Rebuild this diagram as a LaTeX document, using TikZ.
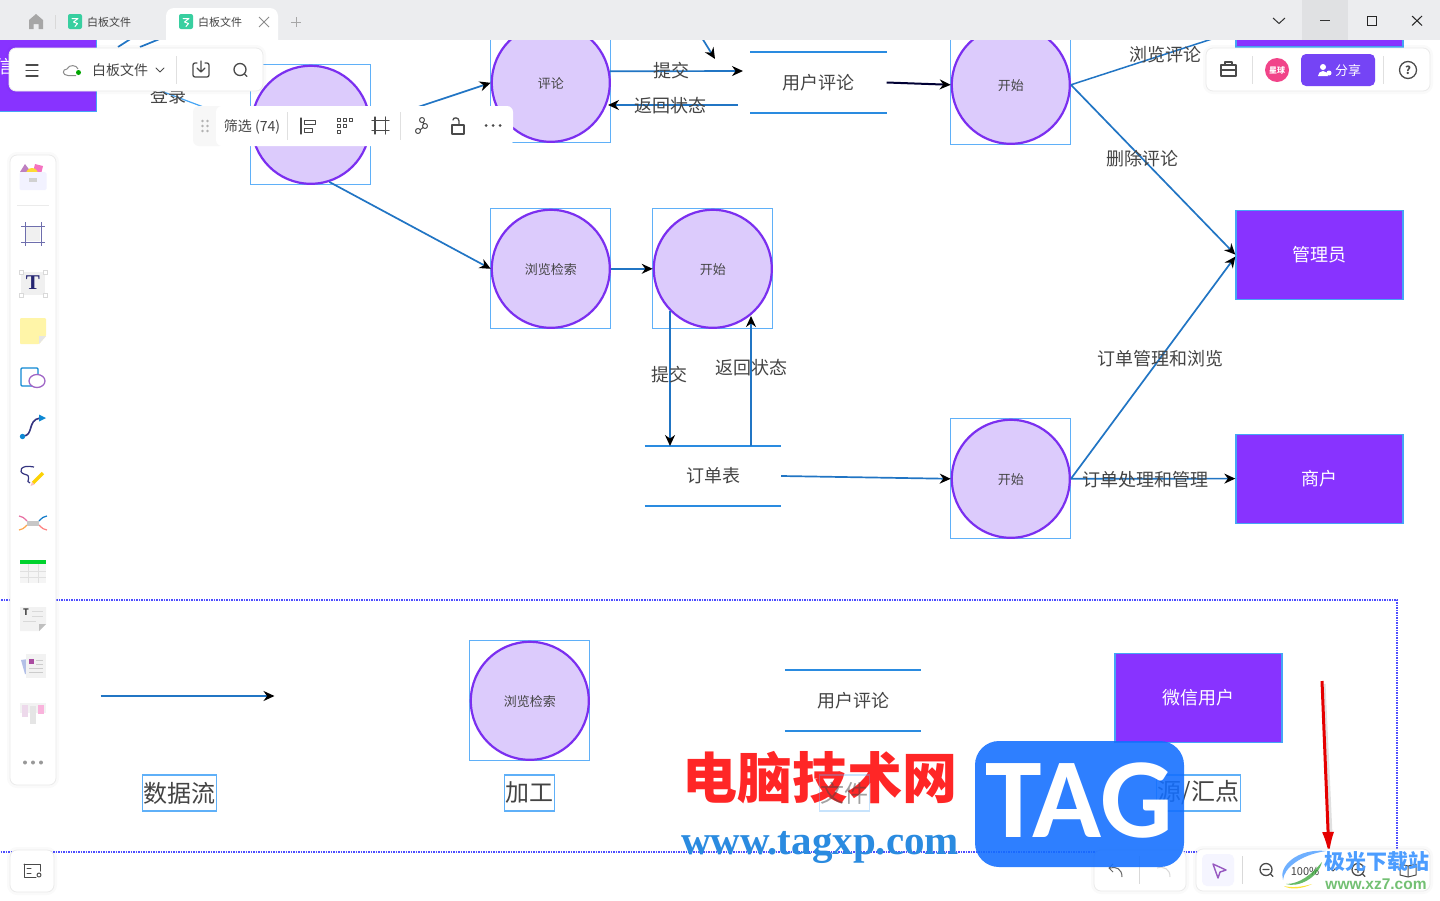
\documentclass[tikz,border=0pt]{standalone}
\usepackage{fontspec}
\setmainfont{Noto Sans CJK SC}
\newfontfamily\serifb{Liberation Serif}
\newfontfamily\sansb{Liberation Sans}
\newfontfamily\tagf{Carlito}
\usetikzlibrary{arrows.meta,calc}
\definecolor{pur}{HTML}{8833FF}
\definecolor{purl}{HTML}{DCCBFC}
\definecolor{purd}{HTML}{7B2FF0}
\definecolor{sel}{HTML}{45A5F5}
\definecolor{selb}{HTML}{5FB0F8}
\definecolor{wire}{HTML}{2175C4}
\definecolor{storec}{HTML}{2A8BE0}
\definecolor{ink}{HTML}{444444}
\definecolor{bar}{HTML}{ECEDEF}
\definecolor{ic}{HTML}{4A4A4A}
\definecolor{logo}{HTML}{38CFA0}
\definecolor{tagblue}{HTML}{126EFF}
\tikzset{
 x=1pt,y=-1pt,
 bubblenode/.style={circle,draw=purd,line width=2.2pt,fill=purl,minimum size=118pt,inner sep=0,font=\fontsize{13}{13}\selectfont,text=ink},
 bubbletext/.style={inner sep=0,font=\fontsize{13}{13}\selectfont,text=ink},
 selbox/.style={draw=selb,line width=1.3pt},
 actor/.style={rectangle,draw=sel,line width=1.2pt,fill=pur,text=white,minimum width=167pt,minimum height=89pt,inner sep=0,font=\fontsize{18}{18}\selectfont},
 store/.style={rectangle,minimum width=136pt,minimum height=60pt,inner sep=0,font=\fontsize{18}{18}\selectfont,text=ink},
 storeline/.style={draw=storec,line width=2.2pt},
 wireline/.style={draw=wire,line width=1.7pt,-{Stealth[length=11pt,width=10pt,black]}},
 flowlabel/.style={inner sep=0,font=\fontsize{18}{18}\selectfont,text=ink,yshift=-.8pt},
 legendlabel/.style={draw=selb,line width=1.2pt,inner sep=1pt,minimum height=36pt,font=\fontsize{24}{24}\selectfont,text=ink},
 panel/.style={draw=black!8,fill=white,line width=.8pt,rounded corners=7pt,preaction={draw=black,draw opacity=.018,line width=6pt}},
 icon/.style={draw=ic,line width=1.3pt,line cap=round,line join=round},
 paneltext/.style={inner sep=0,font=\fontsize{14}{14}\selectfont,text=ink},
 logosq/.style={fill=logo,rounded corners=2pt},
 logomark/.style={draw=white,line width=1pt,line cap=round,line join=round},
}
\newcommand{\bubble}[4]{%
 \draw[selbox] (#2-60,#3-60) rectangle (#2+60,#3+60);
 \node[bubblenode] (#1) at (#2,#3) {};
 \node[bubbletext] (#1t) at (#2,#3+.4) {#4};}
\begin{document}
\begin{tikzpicture}
\useasboundingbox (0,0) rectangle (1440,900);
\fill[white] (0,0) rectangle (1440,900);
% ---------- frame of the legend
\draw[draw=blue!70!white,line width=1.5pt,densely dotted] (-5,600) rectangle (1397,852);
% ---------- actors
\node[actor] (wxtop) at (13,67) {微信用户};
\node[actor,minimum height=40pt] (topright) at (1319.4,27) {};
\node[actor] (admin) at (1319.4,254.6) {管理员};
\node[actor] (shop) at (1319.4,478.6) {商户};
\node[actor] (wxleg) at (1198.4,698) {微信用户};
% ---------- processes
\bubble{login}{310.8}{124.8}{}
\bubble{review}{550.8}{82.8}{评论}
\bubble{startA}{1010.8}{84.8}{开始}
\bubble{browse}{550.8}{268.8}{浏览检索}
\bubble{startB}{712.8}{268.8}{开始}
\bubble{startC}{1010.8}{478.8}{开始}
\bubble{legproc}{529.8}{700.8}{浏览检索}
% ---------- stores
\node[store] (ustore) at (818.5,82.5) {用户评论};
\draw[storeline] (ustore.north west)--(ustore.north east) (ustore.south west)--(ustore.south east);
\node[store] (ostore) at (713,476) {订单表};
\draw[storeline] (ostore.north west)--(ostore.north east) (ostore.south west)--(ostore.south east);
\node[store] (lstore) at (853,700.5) {用户评论};
\draw[storeline] (lstore.north west)--(lstore.north east) (lstore.south west)--(lstore.south east);
% ---------- free ends
\coordinate (e1) at (118,47); \coordinate (e1b) at (132,38);
\coordinate (e2) at (140,47); \coordinate (e2b) at (162,38);
\coordinate (e3) at (702,38); \coordinate (e3b) at (715,59);
\coordinate (toSub) at (743,71);
\coordinate (fromRet) at (738,105);
\coordinate (toRet) at (608,105);
\coordinate (s1) at (670,311); \coordinate (s1b) at (670,446);
\coordinate (r1a) at (751,446); \coordinate (r1b) at (751,316);
\coordinate (upA) at (1215,38);
% ---------- connectors
\draw[draw=wire,line width=1.7pt] (e1)--(e1b) (e2)--(e2b);
\draw[wireline] (e3)--(e3b);
\draw[draw=sel,line width=1.2pt] (wxtop.east)--(login.west);
\draw[wireline] (login.2)--(review.west);
\draw[wireline] (login.-72)--(browse.west);
\draw[wireline] (review.11.5)--(toSub);
\draw[wireline] (fromRet)--(toRet);
\draw[wireline,line width=2pt,draw=black!80!blue] (ustore.east)--(startA.west);
\draw[draw=wire,line width=1.5pt] (startA.east)--(upA);
\draw[wireline] (startA.east)--(admin.west);
\draw[wireline] (browse.east)--(startB.west);
\draw[wireline] (s1)--(s1b);
\draw[wireline] (r1a)--(r1b);
\draw[wireline] (ostore.east)--(startC.west);
\draw[wireline] (startC.east)--($(admin.west)+(0,2)$);
\draw[wireline] (startC.east)--(shop.west);
\coordinate (legA) at (100.5,696);
\coordinate (legB) at (274.5,696);
\draw[wireline] (legA)--(legB);
% ---------- flow labels
\node[flowlabel] (l1) at (168,95) {登录};
\node[flowlabel] (l2) at (671,70) {提交};
\node[flowlabel] (l3) at (670,105) {返回状态};
\node[flowlabel] (l4) at (1165,54) {浏览评论};
\node[flowlabel] (l5) at (1142,158) {删除评论};
\node[flowlabel] (l6) at (669,374) {提交};
\node[flowlabel] (l7) at (751,367) {返回状态};
\node[flowlabel] (l8) at (1160,358) {订单管理和浏览};
\node[flowlabel] (l9) at (1145,479) {订单处理和管理};
% ---------- legend labels
\node[legendlabel,minimum width=73pt] (k1) at (179.5,793) {数据流};
\node[legendlabel,minimum width=49pt] (k2) at (529.5,793) {加工};
\node[legendlabel,minimum width=83pt] (k4) at (1198.5,793) {源/汇点};
% ---------- watermark, text part
\node[inner sep=0,text=red!85!white,font=\fontsize{55}{55}\selectfont\bfseries] (wm1) at (820,778) {电脑技术网};
\node[legendlabel,minimum width=49pt,draw opacity=.35,text opacity=.5] (k3) at (844.5,793) {文件};
\node[inner sep=0,text=storec,font=\serifb\fontsize{41}{41}\selectfont\bfseries] (wm2) at (820,847) {www.tagxp.com};
% ---------- red arrow
\draw[black!40,line width=3pt,opacity=.3] (1324,684)--(1331,835);
\coordinate (ra) at (1322,681); \coordinate (rb) at (1329,855);
\draw[draw=red!90!black,line width=3pt,-{Latex[length=23pt,width=12pt]}] (ra)--(rb);
% ---------- title bar
\fill[bar] (0,0) rectangle (1440,40);
\fill[white,rounded corners=8pt] (166,8) rectangle (278,60);
\fill[white] (166,40) rectangle (278,60);
\fill[black!5!bar] (1302,0) rectangle (1348,40);
\fill[black!35] (29,29)--(29,20)--(36,14)--(43,20)--(43,29)--(38.5,29)--(38.5,24)--(33.5,24)--(33.5,29)--cycle;
\draw[black!15,line width=1pt] (55.5,15)--(55.5,29);
\fill[logosq] (68,14) rectangle (82,29);
\draw[logomark] (72,18.5)--(78,18.5)--(73.5,22)--(77.5,23.5)--(75,26.5);
\node[inner sep=0,text=ink,font=\fontsize{11}{11}\selectfont] (tb) at (109,22) {白板文件};
\fill[logosq] (179,14) rectangle (193,29);
\draw[logomark] (183,18.5)--(189,18.5)--(184.5,22)--(188.5,23.5)--(186,26.5);
\node[inner sep=0,text=ink,font=\fontsize{11}{11}\selectfont] (td) at (220,22) {白板文件};
\draw[black!45,line width=1pt] (259,17)--(269,27) (269,17)--(259,27);
\draw[black!35,line width=1pt] (296,17)--(296,27) (291,22)--(301,22);
\draw[black!80,line width=1pt] (1273,18)--(1279,23.5)--(1285,18);
\draw[black!80,line width=1pt] (1320,20)--(1330,20);
\draw[black!85,line width=1pt] (1367,16) rectangle (1376,25);
\draw[black!85,line width=1pt] (1412,16)--(1422,25.5) (1422,16)--(1412,25.5);
% ---------- top left panel
\draw[panel] (9,48) rectangle (263,91);
\draw[icon] (26,65)--(38,65) (26,70.5)--(38,70.5) (26,76)--(38,76);
\draw[black!45,line width=1pt,line join=round] (76,75.5)--(68,75.5)..controls (62,75.5) and (62,69) .. (67,69) ..controls (69,64) and (77,65).. (78,69);
\fill[green!65!black] (78.5,72.5) circle[radius=2.5pt];
\node[paneltext] (pa) at (120,70.5) {白板文件};
\draw[icon,line width=1pt] (156,68)--(160,72)--(164,68);
\draw[black!12,line width=1pt] (176.5,56)--(176.5,84);
\draw[icon] (197,63)--(195,63)..controls (194,63) and (193,64) .. (193,65)--(193,75)..controls (193,76) and (194,77) .. (195,77)--(207,77)..controls (208,77) and (209,76) .. (209,75)--(209,65)..controls (209,64) and (208,63) .. (207,63)--(205,63) (201,61)--(201,71) (197,68)--(201,72)--(205,68);
\draw[icon] (240,69.5) circle[radius=6pt] (244.5,74)--(247,76.5);
% ---------- filter panel
\fill[black!3,rounded corners=6pt] (193,106) rectangle (225,146);
\fill[white,rounded corners=6pt] (216,106) rectangle (513,146);
\foreach \xa in {202.5,207.5}\foreach \ya in {121,126,131}{\fill[black!30] (\xa,\ya) circle[radius=1.4pt];}
\node[paneltext] (fa) at (252,126.5) {筛选 (74)};
\draw[black!12,line width=1pt] (287.5,112)--(287.5,140) (400.5,112)--(400.5,140);
\draw[icon] (301,118)--(301,134);
\draw[icon,line width=1pt] (304,120) rectangle (315,124.5) (304,128) rectangle (312,132.5);
\foreach \xa in {339,345,351}{\draw[icon,line width=1pt] (\xa-1.5,120-1.5) rectangle (\xa+1.5,120+1.5);}
\foreach \xa in {339,345}{\draw[icon,line width=1pt] (\xa-1.5,126-1.5) rectangle (\xa+1.5,126+1.5);}
\draw[icon,line width=1pt] (337.5,130.5) rectangle (340.5,133.5);
\draw[icon] (375,120.5) rectangle (385.5,130.5) (375,117)--(375,134) (385.5,117)--(385.5,134) (372,120.5)--(389,120.5) (372,130.5)--(389,130.5);
\draw[icon,line width=1pt] (422,120) circle[radius=2.5pt] (425,126) circle[radius=2.5pt] (418,131) circle[radius=2.5pt] (423,122.5)--(424,124) (420,130)--(423,127.5);
\draw[icon] (452,125) rectangle (464,134);
\draw[icon] (459,125)--(459,121)..controls (459,117) and (453,117) .. (453,120);
\foreach \xa in {486,493,500}{\fill[ic] (\xa,125.5) circle[radius=1.5pt];}
% ---------- top right panel
\draw[panel] (1206,48) rectangle (1430,91);
\draw[icon] (1221,65) rectangle (1236,76) (1225,65)--(1225,62)--(1232,62)--(1232,65) (1221,70)--(1236,70);
\draw[black!12,line width=1pt] (1252.5,56)--(1252.5,84) (1383.5,56)--(1383.5,84);
\fill[magenta!70!red!75] (1277,70) circle[radius=12pt];
\node[inner sep=0,text=white,font=\fontsize{8}{8}\selectfont\bfseries] (ra1) at (1277,70) {星球};
\fill[fill=purd!75!blue!85!white,rounded corners=5pt] (1301,54) rectangle (1375,86);
\fill[white] (1323,67) circle[radius=3pt] (1318,76) arc[start angle=180,end angle=0,radius=5pt];
\fill[white] (1329,73) circle[radius=2.5pt];
\node[inner sep=0,text=white,font=\fontsize{13}{13}\selectfont] (ra2) at (1348,71) {分享};
\draw[icon] (1408,70) circle[radius=8.5pt];
\node[inner sep=0,text=ic,font=\fontsize{11}{11}\selectfont\bfseries] (ra3) at (1408,70) {?};
% ---------- left toolbar
\draw[panel] (10,155) rectangle (56,785);
\fill[blue!35!purple!50!white] (20,172)--(25,164)--(31,172)--cycle;
\fill[magenta!55!white] (35,164)--(43,166)--(41,174)--(33,172)--cycle;
\fill[yellow!70!orange!80] (26,174) arc[start angle=180,end angle=0,radius=6pt]--cycle;
\fill[blue!5,rounded corners=1.5pt] (19.5,172) rectangle (46.5,190);
\fill[black!18] (29,178) rectangle (37,182);
\draw[black!8,line width=1pt] (17,205.5)--(49,205.5);
\fill[black!6] (26,227) rectangle (40,241);
\draw[draw=ic!65!blue!70!white,line width=1pt] (25,226) rectangle (41,242) (25,222)--(25,246) (41,222)--(41,246) (21,226)--(45,226) (21,242)--(45,242);
\fill[black!6] (21,272) rectangle (45,295);
\foreach \xa/\ya in {21/272,45/272,21/295,45/295}{\fill[white,draw=black!15,line width=.5pt] (\xa-2,\ya-2) rectangle (\xa+2,\ya+2);}
\node[inner sep=0,font=\serifb\fontsize{21}{21}\selectfont\bfseries,text=blue!35!black!85] (tT) at (33,283) {T};
\fill[yellow!30!white!95!orange,rounded corners=1pt] (20,318)--(46,318)--(46,336)--(39,344)--(20,344)--cycle;
\fill[black!10] (46,336)--(39,344)--(39,336)--cycle;
\draw[draw=cyan!70!blue,line width=1.3pt,rounded corners=1pt] (21,368) rectangle (38,386);
\draw[draw=blue!50!purple!60!white,fill=white,line width=1.3pt] (37,381) ellipse[x radius=8pt,y radius=6.5pt];
\draw[draw=ic!70!blue,line width=1.6pt] (23,436)..controls (34,436) and (27,420) .. (40,418);
\fill[cyan!70!blue] (22.5,436.5) circle[radius=2.7pt];
\fill[cyan!70!blue] (39,414.5)--(46,418)--(39,421.5)--cycle;
\draw[draw=ic!70!blue,line width=1.2pt] (34,467)..controls (20,464) and (18,472) .. (24,474)..controls (34,476) and (24,482) .. (30,483);
\draw[draw=yellow!70!orange,line width=3.5pt] (33,483)--(43,473);
\fill[pink] (30.5,486)--(32,482)--(34.5,484.5)--cycle;
\draw[draw=magenta!60!purple!60,line width=1.2pt] (19,516)..controls (22,516) and (24,518) .. (27,521);
\draw[draw=cyan!60!blue,line width=1.2pt] (47,516)..controls (44,516) and (42,518) .. (39,521);
\draw[draw=orange!70,line width=1.2pt] (19,530)..controls (22,530) and (24,528) .. (27,525);
\draw[draw=red!50,line width=1.2pt] (47,530)..controls (44,530) and (42,528) .. (39,525);
\fill[black!22] (27,520.5) rectangle (39,526);
\fill[black!4] (20,560) rectangle (46,583);
\fill[green!65!teal] (20,560) rectangle (46,564);
\draw[black!12,line width=.8pt] (20,571)--(46,571) (20,577)--(46,577) (28,564)--(28,583) (38,564)--(38,583);
\fill[black!5] (20,607)--(46,607)--(46,624)--(39,631)--(20,631)--cycle;
\fill[black!25] (46,624)--(39,631)--(39,624)--cycle;
\node[inner sep=0,font=\fontsize{9}{9}\selectfont\bfseries,text=ic] (dT) at (26,612) {T};
\draw[black!15,line width=1pt] (32,611)--(43,611) (32,616)--(43,616) (23,621)--(36,621);
\fill[cyan!40!blue!30] (21,660)--(28,659)--(31,674)--(25,674)--cycle;
\fill[black!5] (26,654) rectangle (46,678);
\fill[purple!70!blue!70] (29,659) rectangle (34,664);
\draw[black!20,line width=1pt] (36,660)--(43,660) (36,664)--(43,664) (29,668)--(43,668) (29,672)--(43,672);
\fill[black!5] (20,703) rectangle (46,713);
\fill[black!10] (30,706) rectangle (36,724);
\fill[blue!30!purple!15] (22,705) rectangle (28,717);
\fill[magenta!30] (38,705) rectangle (44,714);
\foreach \xa in {25,33,41}{\fill[black!40] (\xa,762.5) circle[radius=2pt];}
% ---------- lower left panel
\draw[panel] (10,850) rectangle (54,892);
\draw[icon,line width=1pt] (24,864)--(40,864)--(40,871) (36,877)--(24,877)--(24,864) (27,868)--(31,868) (27,873)--(31,873);
\draw[icon,line width=1pt] (39,875) circle[radius=2pt];
% ---------- lower right panels
\draw[panel] (1094,850) rectangle (1186,891);
\draw[black!60,line width=1pt] (1122,877)..controls (1122,869) and (1116,866).. (1110,868) (1113,864)--(1109,868)--(1113,872);
\draw[black!15,line width=1pt] (1139.5,856)--(1139.5,884);
\draw[black!15,line width=1pt] (1170,877)..controls (1170,869) and (1164,866).. (1157,868);
\draw[panel] (1196,849) rectangle (1430,891);
\fill[blue!4,rounded corners=5pt] (1202,854) rectangle (1234,886);
\draw[draw=blue!50!purple!65!white,line width=1.4pt,line join=round] (1213,864)--(1226,870)--(1220,872)--(1218,878)--cycle;
\draw[black!15,line width=1pt] (1242.5,856)--(1242.5,884);
\draw[icon] (1266,869.5) circle[radius=6pt] (1263,869.5)--(1269,869.5) (1270.5,874)--(1273,876.5);
\node[paneltext,font=\fontsize{11}{11}\selectfont] (z1) at (1305,871) {100\%};
\draw[icon,line width=1pt] (1329,867)--(1333,871)--(1337,867);
\draw[icon] (1358,869.5) circle[radius=6pt] (1355,869.5)--(1361,869.5) (1358,866.5)--(1358,872.5) (1362.5,874)--(1365,876.5);
\draw[icon,line width=1pt] (1400,864)--(1408,866)--(1416,864)--(1416,875)--(1408,877)--(1400,875)--cycle (1408,866)--(1408,877);
% ---------- watermark TAG, over the panels
\node[rectangle,rounded corners=24pt,fill=tagblue,fill opacity=.88,minimum width=209pt,minimum height=126pt,inner sep=0] (tagbox) at (1079.5,804) {};
\node[inner sep=0,text=white,font=\tagf\fontsize{114}{114}\selectfont\bfseries] (tagt) at (1079,800) {TAG};
% ---------- xz7 watermark
\fill[blue!55!cyan!70,opacity=.8] (1326,851)..controls (1298,848) and (1278,866) .. (1283,880)..controls (1284,868) and (1300,855) .. (1326,851)--cycle;
\fill[green!55!black!80,opacity=.75] (1322,862)..controls (1318,878) and (1298,888) .. (1286,884)..controls (1300,884) and (1312,874) .. (1322,862)--cycle;
\fill[yellow!80!orange,opacity=.8] (1284,886)..controls (1290,890) and (1302,889) .. (1312,884)..controls (1302,887) and (1292,888) .. (1284,886)--cycle;
\node[inner sep=0,text=blue!55!cyan!70,font=\fontsize{21}{21}\selectfont\bfseries] (xz1) at (1376.5,862) {极光下载站};
\node[inner sep=0,text=green!55!black!55,font=\sansb\fontsize{15.5}{15.5}\selectfont\bfseries] (xz2) at (1376,884) {www.xz7.com};
\end{tikzpicture}
\end{document}
